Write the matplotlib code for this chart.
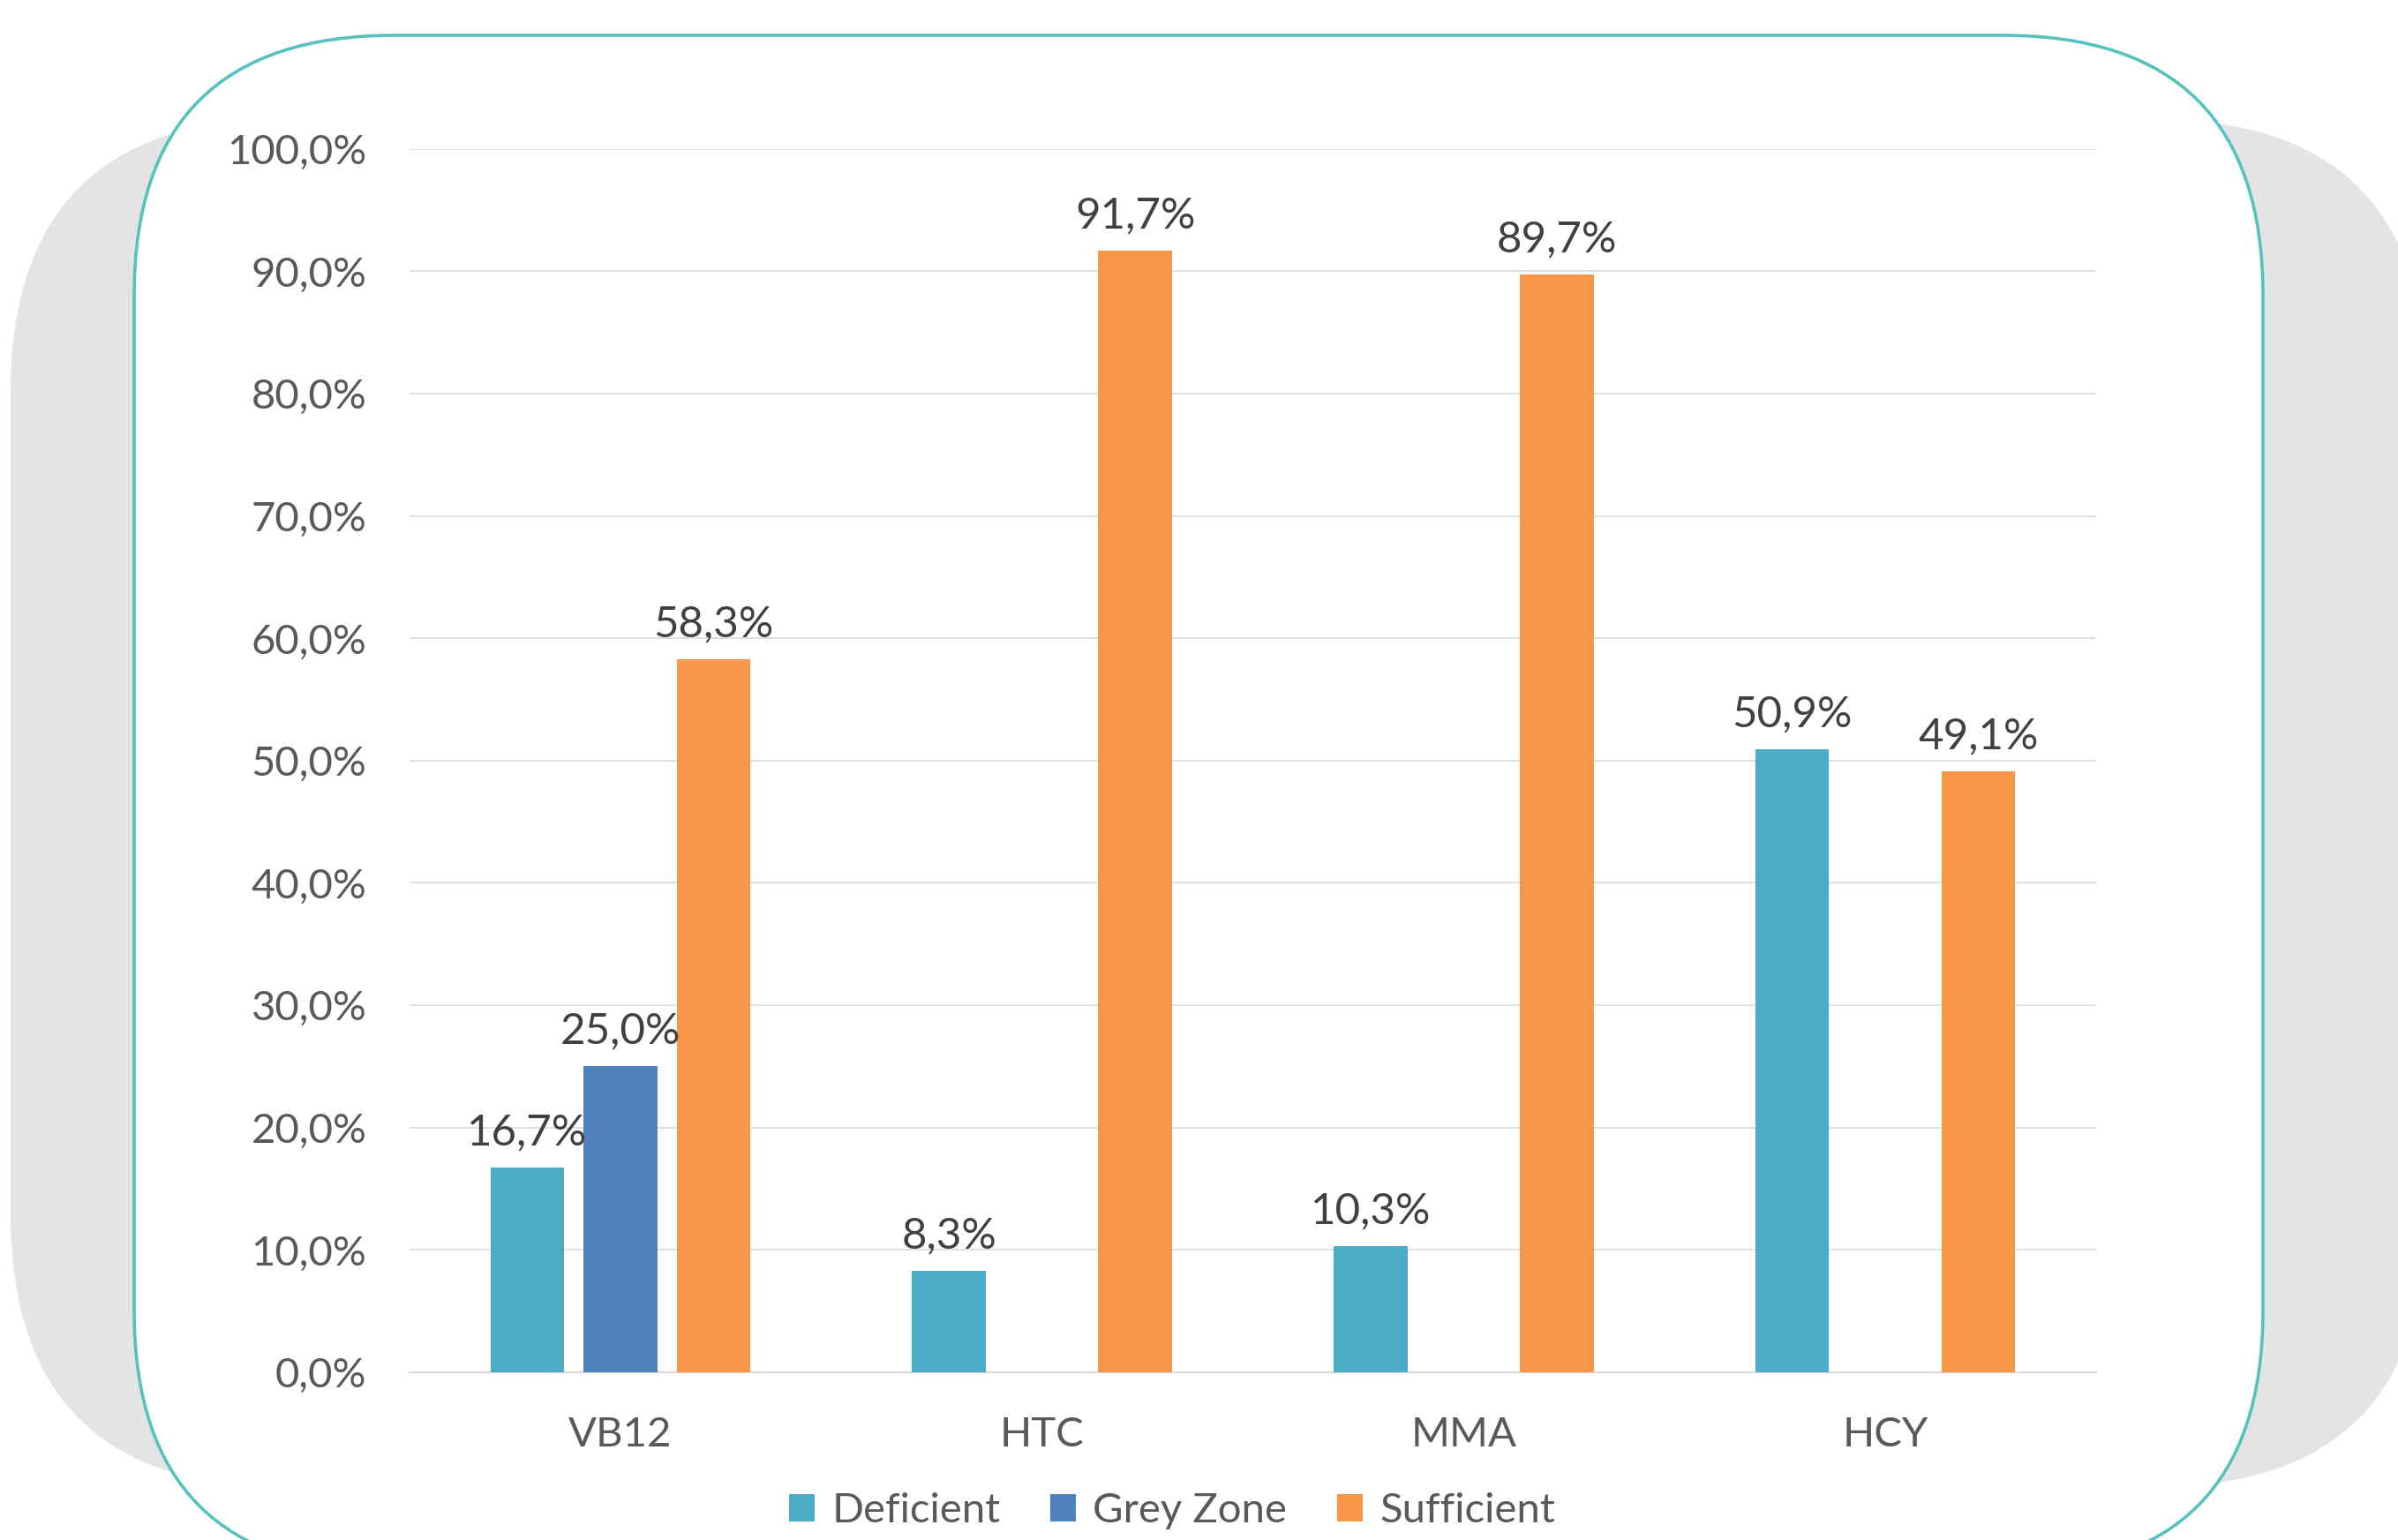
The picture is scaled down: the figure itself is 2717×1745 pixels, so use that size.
import numpy as np
import matplotlib
matplotlib.use("Agg")
import matplotlib.pyplot as plt
from matplotlib.patches import FancyBboxPatch, Patch
from matplotlib.transforms import IdentityTransform
from matplotlib.ticker import FuncFormatter, MultipleLocator

# ---- data ----
categories = ["VB12", "HTC", "MMA", "HCY"]
series_names = ["Deficient", "Grey Zone", "Sufficient"]
deficient = [16.7, 8.3, 10.3, 50.9]
grey_zone = [25.0, np.nan, np.nan, np.nan]
sufficient = [58.3, 91.7, 89.7, 49.1]
series_colors = ["#4BACC6", "#4F81BD", "#F79646"]

W, H, DPI = 2717, 1745, 100
plt.rcParams["font.family"] = ["Lato", "DejaVu Sans"]
FS = 34
FS_LBL = 35.5

fig = plt.figure(figsize=(W / DPI, H / DPI), dpi=DPI, facecolor="white")

# background shapes (pixel coordinates, origin bottom-left)
grey = FancyBboxPatch((12, H - 1685), 2750 - 12, 1685 - 135,
                      boxstyle="round,pad=0,rounding_size=310",
                      transform=IdentityTransform(), facecolor="#E4E4E4",
                      edgecolor="none", zorder=-3)
fig.add_artist(grey)
white = FancyBboxPatch((152, H - 1780), 2564 - 152, 1780 - 40,
                       boxstyle="round,pad=0,rounding_size=295",
                       transform=IdentityTransform(), facecolor="white",
                       edgecolor="#55C2BE", linewidth=2.6, zorder=-2)
fig.add_artist(white)

ax = fig.add_axes([464 / W, 1 - 1555 / H, (2375 - 464) / W, (1555 - 168.7) / H])
ax.set_facecolor("none")
ax.set_zorder(1)

x = np.arange(len(categories))
width = 0.1748
offsets = [-0.2208, 0.0, 0.2208]
all_series = [deficient, grey_zone, sufficient]

for vals, off, col in zip(all_series, offsets, series_colors):
    vals = np.array(vals, dtype=float)
    ax.bar(x + off, np.nan_to_num(vals), width=width, color=col, zorder=3)
    for xi, v in zip(x, vals):
        if np.isnan(v) or v == 0:
            continue
        ax.annotate(f"{v:.1f}%".replace(".", ","), (xi + off, v),
                    xytext=(0, 18.5), textcoords="offset points",
                    ha="center", va="baseline", fontsize=FS_LBL, color="#404040",
                    zorder=5)

ax.set_xlim(-0.5, len(categories) - 0.5)
ax.set_ylim(0, 100)
ax.yaxis.set_major_locator(MultipleLocator(10))
ax.yaxis.set_major_formatter(FuncFormatter(lambda v, p: f"{v:.1f}%".replace(".", ",")))
ax.set_xticks(x)
ax.set_xticklabels(categories)
ax.tick_params(axis="both", length=0, labelsize=FS, labelcolor="#595959")
ax.tick_params(axis="y", pad=35)
ax.tick_params(axis="x", pad=36)
ax.grid(axis="y", color="#D9D9D9", linewidth=1.2)
ax.set_axisbelow(True)
for s in ["left", "right", "top"]:
    ax.spines[s].set_visible(False)
ax.spines["bottom"].set_color("#D9D9D9")
ax.spines["bottom"].set_linewidth(1.4)
ax.spines["bottom"].set_zorder(2)

handles = [Patch(facecolor=c, edgecolor="none") for c in series_colors]
fig.legend(handles, series_names, loc="center",
           bbox_to_anchor=(1328 / W, 1 - 1712 / H), ncol=3, frameon=False,
           handlelength=0.62, handleheight=0.64, handletextpad=0.4,
           columnspacing=1.2, fontsize=FS, labelcolor="#595959",
           borderpad=0, borderaxespad=0)

fig.savefig("out.png", dpi=DPI, facecolor="white")
